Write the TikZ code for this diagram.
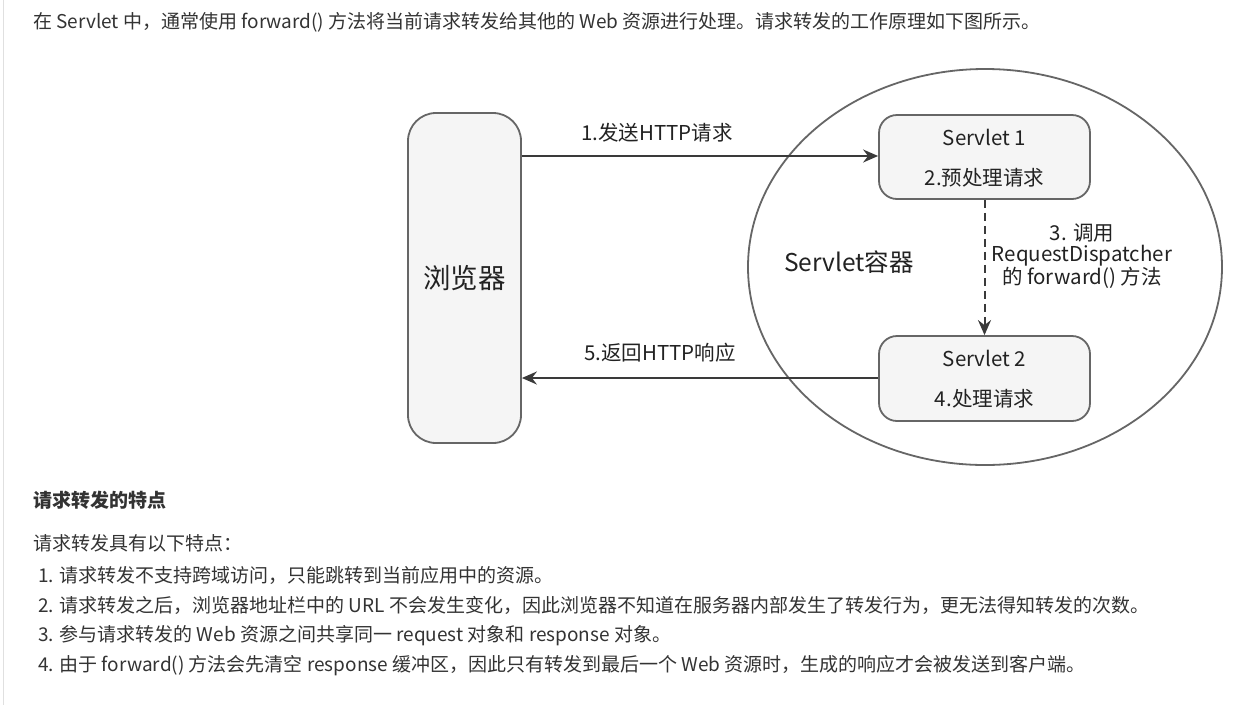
\documentclass[tikz,border=0pt]{standalone}
\usepackage{fontspec}
\setmainfont{Noto Sans CJK SC}
\usetikzlibrary{arrows.meta,shapes.geometric}
\definecolor{txt}{HTML}{333333}
\definecolor{dtxt}{HTML}{222222}
\definecolor{edge}{HTML}{666666}
\definecolor{boxfill}{HTML}{F5F5F5}
\definecolor{arr}{HTML}{3A3A3A}
\tikzset{
  box/.style={draw=edge, line width=1.8pt, fill=boxfill, rounded corners=#1, inner sep=0pt},
  lbl/.style={text=dtxt, font=\fontsize{20.5}{21}\selectfont, inner sep=0pt},
  body/.style={text=txt, anchor=west, font=\fontsize{19}{21}\selectfont, inner sep=0pt},
  conn/.style={draw=arr, line width=2pt, -{Stealth[length=15pt,width=13pt,inset=5pt]}},
}
\begin{document}
\begin{tikzpicture}[x=1pt,y=-1pt]
\useasboundingbox (0,0) rectangle (1253,705);
\fill[white] (0,0) rectangle (1253,705);
\draw[draw=black!12, line width=1.2pt] (3.5,0) -- (3.5,705);
% body text
\node[body] (t1) at (33,22) {在 Servlet 中，通常使用 forward() 方法将当前请求转发给其他的 Web 资源进行处理。请求转发的工作原理如下图所示。};
\node[body, font=\fontsize{19}{21}\selectfont\bfseries] (h) at (33,500) {请求转发的特点};
\node[body] (p) at (33,543) {请求转发具有以下特点：};
\node[body] (i1) at (38,575) {1. 请求转发不支持跨域访问，只能跳转到当前应用中的资源。};
\node[body] (i2) at (38,605) {2. 请求转发之后，浏览器地址栏中的 URL 不会发生变化，因此浏览器不知道在服务器内部发生了转发行为，更无法得知转发的次数。};
\node[body] (i3) at (38,636) {3. 参与请求转发的 Web 资源之间共享同一 request 对象和 response 对象。};
\node[body] (i4) at (38,666) {4. 由于 forward() 方法会先清空 response 缓冲区，因此只有转发到最后一个 Web 资源时，生成的响应才会被发送到客户端。};
% diagram
\node[draw=edge, line width=1.8pt, ellipse, minimum width=474pt, minimum height=396pt, inner sep=0pt] (cont) at (985,267) {};
\node[box=28pt, minimum width=113pt, minimum height=330pt] (br) at (464.5,278) {};
\node[lbl, font=\fontsize{27.5}{30}\selectfont] (brl) at (464.5,278) {浏览器};
\node[box=18pt, minimum width=211pt, minimum height=84pt] (s1) at (984.5,157) {};
\node[lbl] (s1a) at (984.5,137) {Servlet 1};
\node[lbl] (s1b) at (984.5,178) {2.预处理请求};
\node[box=18pt, minimum width=211pt, minimum height=85pt] (s2) at (984.5,378.5) {};
\node[lbl] (s2a) at (984.5,358) {Servlet 2};
\node[lbl] (s2b) at (984.5,399) {4.处理请求};
\node[lbl, font=\fontsize{24.5}{27}\selectfont] (cl) at (849,262) {Servlet容器};
\coordinate (a1s) at (br.east |- 0,156);
\coordinate (a1e) at (s1.west |- 0,156);
\draw[conn] (a1s) -- (a1e);
\node[lbl] (l1) at (657,133) {1.发送HTTP请求};
\coordinate (a5s) at (s2.west |- 0,378);
\coordinate (a5e) at (br.east |- 0,378);
\draw[conn] (a5s) -- (a5e);
\node[lbl] (l5) at (660,353) {5.返回HTTP响应};
\draw[conn, dash pattern=on 8pt off 5pt] (s1.south) -- (s2.north);
\node[lbl, align=center, font=\fontsize{20.5}{21}\selectfont] (l3) at (1082,256) {3. 调用\\RequestDispatcher\\的 forward() 方法};
\end{tikzpicture}
\end{document}
